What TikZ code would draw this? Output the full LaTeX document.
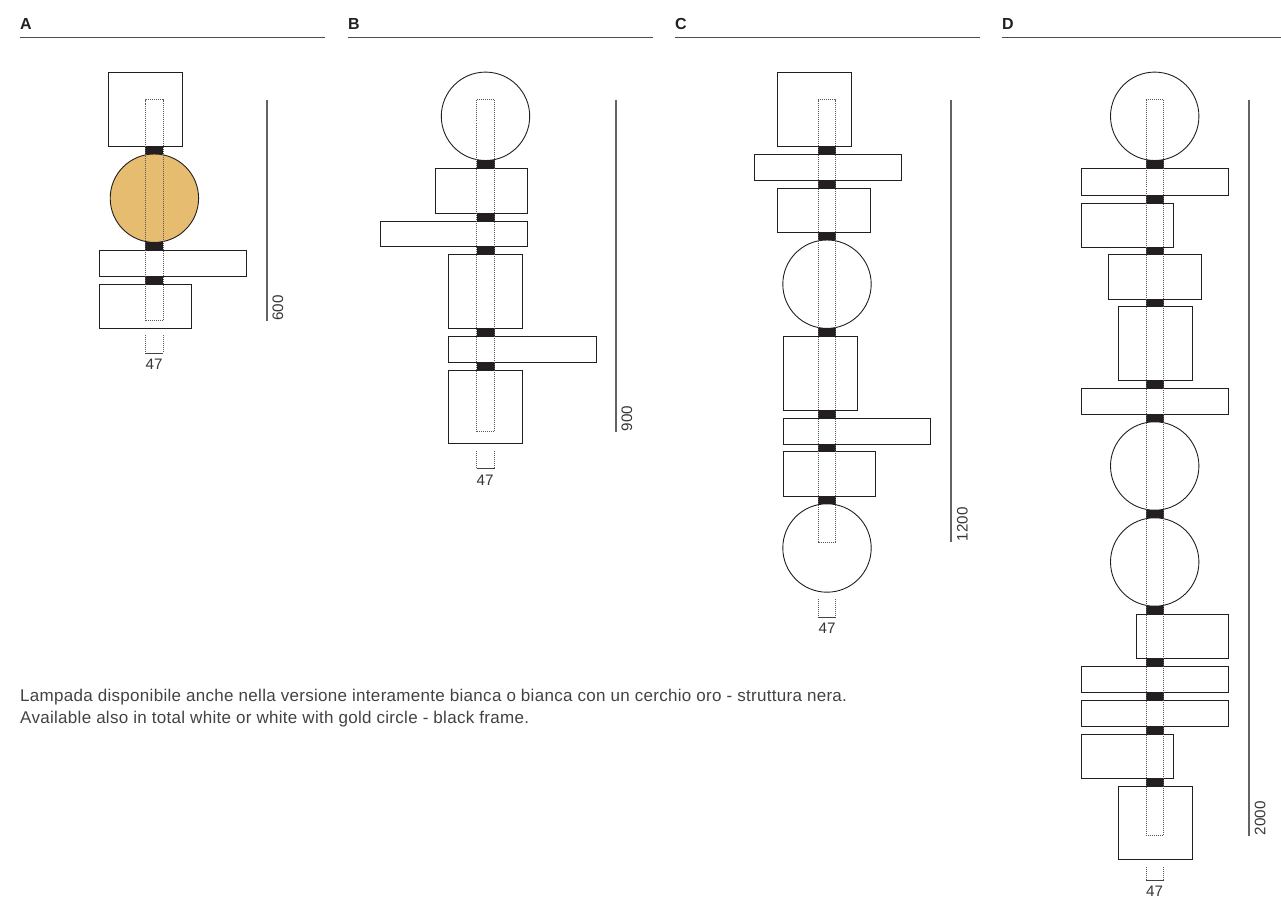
\documentclass[tikz,border=0pt]{standalone}
\usepackage{fontspec}
\setmainfont{Liberation Sans}
\newfontfamily\notefont[LetterSpace=1.75]{Liberation Sans}
\definecolor{ink}{HTML}{231F20}
\definecolor{gold}{HTML}{E6BD70}
\tikzset{
  part/.style={draw=ink,line width=0.9pt},
  disc/.style={draw=ink,line width=0.9pt},
  golddisc/.style={disc,fill=gold},
  joint/.style={fill=ink,draw=none},
  stem/.style={draw=ink!75,line width=0.9pt,dash pattern=on 1pt off 1pt},
  rule/.style={draw=ink!80,line width=1.2pt},
  dimline/.style={draw=ink!70,line width=1.2pt},
  head/.style={font=\fontsize{16}{18}\selectfont\bfseries,text=ink,anchor=base west,inner sep=0pt},
  size/.style={font=\fontsize{15.2}{17}\selectfont,text=ink!90,inner sep=0pt},
  note/.style={font=\notefont\fontsize{17}{22}\selectfont,text=ink!85,anchor=base west,inner sep=0pt},
}
\newcommand{\pbox}[4]{\draw[part] (#1,#2) rectangle (#3,#4);}
\newcommand{\pdisc}[3][disc]{\draw[#1] (#2,#3) circle (44.2);}
\newcommand{\pjoint}[3]{\fill[joint] (#1-9,#2) rectangle (#1+9,#3);}
\newcommand{\pstem}[3]{\draw[stem] (#1-8.8,#3) -- (#1-8.8,#2) -- (#1+8.8,#2) -- (#1+8.8,#3) -- cycle;}
\newcommand{\pbracket}[3]{\draw[stem] (#1-8.8,#2) -- (#1-8.8,#3);
  \draw[stem] (#1+8.8,#2) -- (#1+8.8,#3);
  \draw[ink!85,line width=0.8pt] (#1-9,#3) -- (#1+9,#3);}
\begin{document}
\begin{tikzpicture}[x=1pt,y=-1pt]
\useasboundingbox (0,0) rectangle (1281,899);
% headers
\node[head] (hA) at (20,30) {A};
\node[head] (hB) at (348,30) {B};
\node[head] (hC) at (675,30) {C};
\node[head] (hD) at (1002,30) {D};
\draw[rule] (20,37.8) -- (325,37.8);
\draw[rule] (348,37.8) -- (652.5,37.8);
\draw[rule] (675,37.8) -- (980,37.8);
\draw[rule] (1002,37.8) -- (1281,37.8);
% A
\pbox{108.3}{72.3}{182}{146}
\pjoint{154}{146}{154}
\pdisc[golddisc]{154.4}{198.2}
\pjoint{154}{242}{250}
\pbox{99}{250}{246.3}{276}
\pjoint{154}{276}{284}
\pbox{99}{284}{191}{328}
\pstem{154.2}{99.5}{320.5}
\pbracket{154.2}{335}{353}
\node[size] (wA) at (154,364) {47};
\draw[dimline] (267,99.5) -- (267,320.5);
\node[size,rotate=90,anchor=west] (sA) at (278,321) {600};
% B
\pdisc{485.5}{116.3}
\pjoint{485.5}{160}{168}
\pbox{435}{168}{527.7}{213}
\pjoint{485.5}{213}{221}
\pbox{380}{221}{527.7}{246.3}
\pjoint{485.5}{246.3}{254}
\pbox{448}{254}{522}{328}
\pjoint{485.5}{328}{336}
\pbox{448}{336}{596}{362}
\pjoint{485.5}{362}{370}
\pbox{448}{370}{522}{443.7}
\pstem{485.5}{99.5}{431.5}
\pbracket{485.5}{451}{468.5}
\node[size] (wB) at (485,480) {47};
\draw[dimline] (616,99.5) -- (616,431.5);
\node[size,rotate=90,anchor=west] (sB) at (627,431.5) {900};
% C
\pbox{777.3}{72.3}{851.3}{146}
\pjoint{827}{146}{154}
\pbox{754}{154}{901}{180}
\pjoint{827}{180}{188}
\pbox{777.3}{188}{870}{232}
\pjoint{827}{232}{240}
\pdisc{827}{284.2}
\pjoint{827}{328}{336}
\pbox{783}{336}{857}{410}
\pjoint{827}{410}{418}
\pbox{783}{418}{930}{444}
\pjoint{827}{444}{451.5}
\pbox{783}{451.5}{875}{496}
\pjoint{827}{496}{504}
\pdisc{827}{548}
\pstem{827}{99.5}{542}
\pbracket{827}{599}{617}
\node[size] (wC) at (827,628) {47};
\draw[dimline] (951,99.5) -- (951,541.5);
\node[size,rotate=90,anchor=west] (sC) at (962.5,541.5) {1200};
% D
\pdisc{1154.7}{116.3}
\pjoint{1155}{160}{168}
\pbox{1081}{168}{1228}{195}
\pjoint{1155}{195}{203}
\pbox{1081}{203}{1173}{247}
\pjoint{1155}{247}{254}
\pbox{1108}{254}{1201}{299}
\pjoint{1155}{299}{306}
\pbox{1118}{306}{1192}{380}
\pjoint{1155}{380}{388}
\pbox{1081}{388}{1228}{414}
\pjoint{1155}{414}{422}
\pdisc{1154.7}{466}
\pjoint{1155}{510}{518}
\pdisc{1154.7}{562}
\pjoint{1155}{606}{614}
\pbox{1136}{614}{1228}{658}
\pjoint{1155}{658}{666}
\pbox{1081}{666}{1228}{692}
\pjoint{1155}{692}{700}
\pbox{1081}{700}{1228}{726}
\pjoint{1155}{726}{734}
\pbox{1081}{734}{1173}{778}
\pjoint{1155}{778}{786}
\pbox{1118}{786}{1192}{859.5}
\pstem{1155}{99.5}{835.5}
\pbracket{1155}{867}{880.7}
\node[size] (wD) at (1154.5,891.5) {47};
\draw[dimline] (1249,99.5) -- (1249,835.5);
\node[size,rotate=90,anchor=west] (sD) at (1260,835.5) {2000};
% note
\node[note] (n1) at (20,701) {Lampada disponibile anche nella versione interamente bianca o bianca con un cerchio oro - struttura nera.};
\node[note] (n2) at (20,723) {Available also in total white or white with gold circle - black frame.};
\end{tikzpicture}
\end{document}
